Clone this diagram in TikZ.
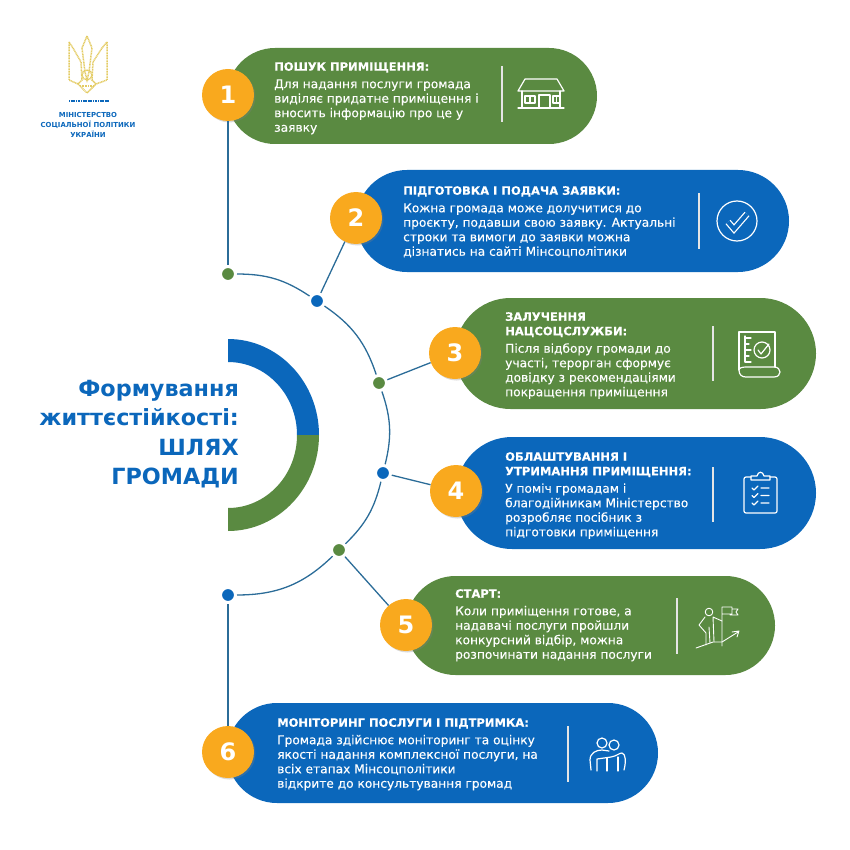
\documentclass[tikz,border=0pt]{standalone}
\usepackage{fontspec}
\setmainfont{DejaVu Sans}
\newfontfamily\bodyfont[FakeBold=.25]{DejaVu Sans}
\usetikzlibrary{shapes.misc,shadows}
\definecolor{leaf}{HTML}{5A8A41}
\definecolor{sea}{HTML}{0B67BB}
\definecolor{sun}{HTML}{F9A91E}
\definecolor{wire}{HTML}{2B6C98}
\definecolor{gold}{HTML}{E3CB62}
\newcommand{\hd}[1]{{\fontsize{11.5}{14.5}\selectfont\bfseries #1}}
\begin{document}
\begin{tikzpicture}[x=1pt,y=-1pt,
    pill/.style={rounded rectangle,draw=none,inner sep=0pt},
    note/.style={anchor=north west,inner sep=0pt,text=white,align=left,font=\bodyfont\fontsize{12.2}{14.5}\selectfont},
    icon/.style={draw=white,line width=1.2pt,line join=round,line cap=round},
    rule/.style={draw=white!90!black,line width=1.1pt}]
    \useasboundingbox (0,0) rectangle (850,850);
    % ring
    \fill[sea] (228,339) arc[start angle=90,end angle=0,x radius=91pt,y radius=96pt]
        -- (297,435) arc[start angle=0,end angle=90,x radius=69pt,y radius=73pt] -- cycle;
    \fill[leaf] (319,435) arc[start angle=0,end angle=-90,x radius=91pt,y radius=96pt]
        -- (228,508) arc[start angle=-90,end angle=0,x radius=69pt,y radius=73pt] -- cycle;
    \node[anchor=east,inner sep=0pt,align=right,text=sea,font=\fontsize{22.3}{29.5}\selectfont\bfseries] (title) at (239,434)
        {Формування\\життєстійкості:\\ШЛЯХ\\ГРОМАДИ};
    % pills
    \node[pill,fill=leaf,minimum width=370pt,minimum height=96pt] (p1) at (412,96) {};
    \node[pill,fill=sea,minimum width=433pt,minimum height=102pt] (p2) at (572.5,221) {};
    \node[pill,fill=leaf,minimum width=361pt,minimum height=111pt] (p3) at (635.5,353.5) {};
    \node[pill,fill=sea,minimum width=360pt,minimum height=112pt] (p4) at (636,493) {};
    \node[pill,fill=leaf,minimum width=369pt,minimum height=99pt] (p5) at (590.5,625.5) {};
    \node[pill,fill=sea,minimum width=431pt,minimum height=100pt] (p6) at (442.5,753) {};
    % numbers
    \begin{scope}[every node/.style={circle,fill=sun,text=white,minimum size=52pt,inner sep=0pt,
            font=\fontsize{24}{24}\selectfont\bfseries,drop shadow={opacity=.3,shadow xshift=1.5pt,shadow yshift=-1.5pt}}]
        \node (1) at (228,95) {1};
        \node (2) at (356,218) {2};
        \node (3) at (455,353) {3};
        \node (4) at (456,491) {4};
        \node (5) at (406,625) {5};
        \node (6) at (228,752) {6};
    \end{scope}
    % dots
    \begin{scope}[every node/.style={circle,draw=white,line width=3pt,minimum size=15pt,inner sep=0pt}]
        \node[fill=leaf] (d1) at (228,274) {};
        \node[fill=sea] (d2) at (317,301) {};
        \node[fill=leaf] (d3) at (379,383) {};
        \node[fill=sea] (d4) at (383,473) {};
        \node[fill=leaf] (d5) at (339,550) {};
        \node[fill=sea] (d6) at (228,595) {};
    \end{scope}
    \begin{scope}[every edge/.style={draw=wire,line width=1.3pt}]
        \path
            (1) edge (d1)
            (d1) edge [bend left=16.8] (d2)
            (d2) edge [bend left=18.7] (d3)
            (d3) edge [bend left=16.4] (d4)
            (d4) edge [bend left=16.1] (d5)
            (d5) edge [bend left=22] (d6)
            (d6) edge (6)
            (2) edge (d2)
            (3) edge (d3)
            (4) edge (d4)
            (5) edge (d5);
    \end{scope}
    % texts
    \node[note] (t1) at (274,62) {\hd{ПОШУК ПРИМІЩЕННЯ:}\\[3pt]Для надання послуги громада\\виділяє придатне приміщення і\\вносить інформацію про це у\\заявку};
    \node[note] (t2) at (403,186) {\hd{ПІДГОТОВКА І ПОДАЧА ЗАЯВКИ:}\\[3pt]Кожна громада може долучитися до\\проєкту, подавши свою заявку. Актуальні\\строки та вимоги до заявки можна\\дізнатись на сайті Мінсоцполітики};
    \node[note] (t3) at (505,312) {\hd{ЗАЛУЧЕННЯ}\\\hd{НАЦСОЦСЛУЖБИ:}\\[3pt]Після відбору громади до\\участі, терорган сформує\\довідку з рекомендаціями\\покращення приміщення};
    \node[note] (t4) at (505,452) {\hd{ОБЛАШТУВАННЯ І}\\\hd{УТРИМАННЯ ПРИМІЩЕННЯ:}\\[3pt]У поміч громадам і\\благодійникам Міністерство\\розробляє посібник з\\підготовки приміщення};
    \node[note] (t5) at (455,589) {\hd{СТАРТ:}\\[3pt]Коли приміщення готове, а\\надавачі послуги пройшли\\конкурсний відбір, можна\\розпочинати надання послуги};
    \node[note] (t6) at (277,718) {\hd{МОНІТОРИНГ ПОСЛУГИ І ПІДТРИМКА:}\\[3pt]Громада здійснює моніторинг та оцінку\\якості надання комплексної послуги, на\\всіх етапах Мінсоцполітики\\відкрите до консультування громад};
    % dividers
    \draw[rule] (502,66) -- (502,122);
    \draw[rule] (699,193) -- (699,249);
    \draw[rule] (713,326) -- (713,381);
    \draw[rule] (713,467) -- (713,522);
    \draw[rule] (677,598) -- (677,654);
    \draw[rule] (568,726) -- (568,782);
    % house
    \draw[icon] (525,79) -- (557,79) -- (564,91) -- (518,91) -- cycle;
    \draw[icon] (522,91) -- (522,108) (560,91) -- (560,108) (518,108) -- (564,108);
    \draw[icon] (539,108) -- (539,95) -- (550,95) -- (550,108);
    \draw[icon] (525,96) rectangle (535,103) (530,96) -- (530,103);
    \draw[icon] (553,96) rectangle (560,103) (556.5,96) -- (556.5,103);
    % check
    \draw[icon] (737,221) circle[radius=20pt];
    \draw[draw=white,line width=6.5pt,line join=miter] (728,222) -- (734,229) -- (747,214);
    \draw[draw=sea,line width=4pt,line join=miter,shorten <=-.2pt,shorten >=-.2pt] (728,222) -- (734,229) -- (747,214);
    % scroll
    \draw[icon] (739,370) -- (739,332) -- (775,332) -- (775,367);
    \draw[icon] (739,370) .. controls (739,375) and (742,377) .. (746,377) -- (774,377)
        .. controls (782,377) and (782,367) .. (774,367) -- (746,367) .. controls (742,367) and (739,368) .. (739,370);
    \draw[icon] (745,336) -- (745,362) (745,338) -- (751,338) (745,344) -- (749,344) (745,350) -- (751,350) (745,356) -- (749,356) (745,362) -- (751,362);
    \draw[icon] (762,350) circle[radius=8pt];
    \draw[icon] (758,350) -- (761,354) -- (769,344);
    % clipboard
    \draw[icon,rounded corners=2pt] (751,477) -- (744,477) -- (744,513) -- (777,513) -- (777,477) -- (770,477);
    \draw[icon] (751,480) -- (751,476) -- (757,476) .. controls (758,471) and (763,471) .. (764,476) -- (770,476) -- (770,480) -- cycle;
    \foreach \ypos in {488,495.5,503} {
        \draw[icon] (752,\ypos) -- (754,\ypos+2) -- (758,\ypos-2) (761,\ypos) -- (769,\ypos);
    }
    % climber
    \draw[icon,line width=.9pt] (709,612) circle[radius=3.8pt];
    \draw[icon,line width=.9pt] (705,617) -- (699,625) -- (706,633) -- (706,645);
    \draw[icon,line width=.9pt] (713,617) -- (722,621) (713,617) -- (714,642) (709,627) -- (710,643);
    \draw[icon,line width=.9pt] (722,646) -- (722,607) -- (732,607) -- (732,614) -- (722,614) (732,609) -- (738,609) -- (736,612) -- (738,615) -- (730,615);
    \draw[icon,line width=.9pt] (696,648) -- (713,642) -- (722,642) -- (738,632) (732,632) -- (739,631) -- (737,637);
    % two people
    \draw[icon] (602,743) circle[radius=5pt] (614,745) circle[radius=5pt];
    \draw[icon] (591,770) -- (590,760) .. controls (590,753) and (596,750) .. (602,750) -- (609,751);
    \draw[icon] (597,771) -- (597,759) -- (611,757) .. controls (617,756) and (619,753) .. (622,753)
        .. controls (626,754) and (626,762) .. (624,770);
    \draw[icon] (607,771) -- (607,758) (618,771) -- (618,757);
    % logo
    \begin{scope}[gold,line width=1.5pt,dash pattern=on 1pt off .6pt]
        \draw (87,36) -- (82,48) -- (85,72) -- (87,80) -- (89,72) -- (92,48) -- cycle;
        \draw (69,42) -- (69,80) -- (78,84) -- (82,80) -- (81,62) -- (73,48) -- cycle;
        \draw (107,42) -- (107,80) -- (96,84) -- (92,80) -- (93,62) -- (102,48) -- cycle;
        \draw (78,84) -- (87,93) -- (96,84);
        \draw (87,75) circle[radius=5pt];
        \draw (80,86) -- (94,86);
    \end{scope}
    \draw[sea,line width=1.5pt,dash pattern=on 1.2pt off .5pt] (69,101) -- (109,101);
    \node[inner sep=0pt,align=center,text=sea,font=\fontsize{6.9}{10}\selectfont\bfseries] (org) at (88,125)
        {МІНІСТЕРСТВО\\СОЦІАЛЬНОЇ ПОЛІТИКИ\\УКРАЇНИ};
\end{tikzpicture}
\end{document}
